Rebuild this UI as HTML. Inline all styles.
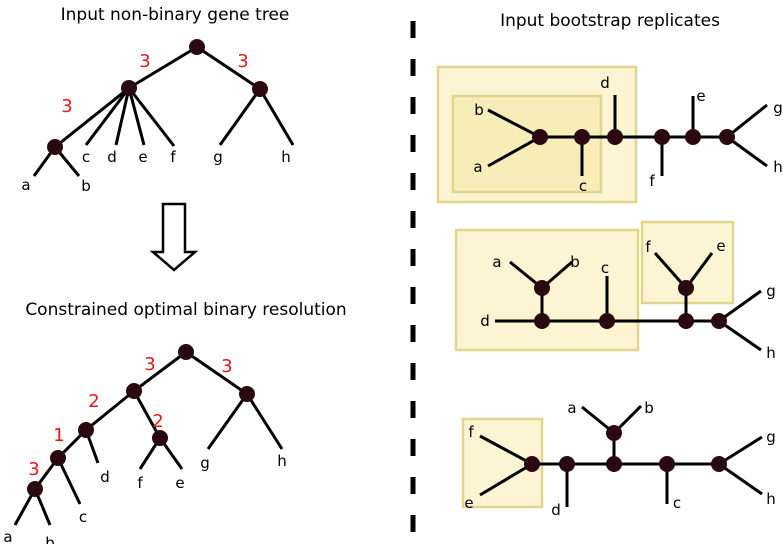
<!DOCTYPE html>
<html><head><style>
html,body{margin:0;padding:0;background:#fff;}
svg{display:block;}
text{font-family:"DejaVu Sans","Liberation Sans",sans-serif;}
.l{font-family:"Liberation Sans",sans-serif;font-size:15px;fill:#000;}
.r{font-family:"Liberation Sans",sans-serif;font-size:18px;fill:#e8161e;}
</style></head><body>
<svg width="783" height="544" viewBox="0 0 783 544" xmlns="http://www.w3.org/2000/svg">
<g fill="none" stroke="#000" stroke-width="3">
<!-- top-left tree -->
<path d="M197,47L129,88M197,47L260,89M129,88L55,147M55,147L34,176M55,147L79,176M129,88L86,145M129,88L116,145M129,88L144,145M129,88L174,146M260,89L220,145M260,89L293,145"/>
<!-- arrow -->
<path d="M163,204H185V252H195L174,270L153,252H163Z" stroke-width="2.5"/>
<!-- bottom-left tree -->
<path d="M186,352L134,391L86,430L58,458L35,489L15,525M35,489L50,525M58,458L80,504M86,430L98,463M134,391L160,438L140,469M160,438L182,469M186,352L247,394L208,449M247,394L282,449"/>
</g>
<!-- dashed divider -->
<line x1="413" y1="21" x2="413" y2="544" stroke="#000" stroke-width="5" stroke-dasharray="17 21"/>
<!-- boxes -->
<g stroke="#e2d58e" stroke-width="2.5">
<rect x="438" y="67" width="198" height="135" fill="#fcf4d2"/>
<rect x="453" y="96" width="148" height="96" fill="#f8ecb8"/>
<rect x="456" y="230" width="182" height="120" fill="#fcf4d2"/>
<rect x="642" y="222" width="91" height="81" fill="#fcf4d2"/>
<rect x="463" y="419" width="79" height="88" fill="#fcf4d2"/>
</g>
<g fill="none" stroke="#000" stroke-width="3">
<path d="M488,110L540,137L488,166M540,137H727L767,105M727,137L767,166M582,137V176M615,137V95M662,137V176M693,137V96"/>
<path d="M495,321H719L761,291M719,321L761,350M542,321V288L510,262M542,288L572,262M607,321V276M686,321V288L655,253M686,288L712,253"/>
<path d="M480,436L532,464L480,495M532,464H719L762,437M719,464L762,494M567,464V507M667,464V504M614,464V433L582,407M614,433L641,406"/>
</g>
<g fill="#2a0a10">
<circle cx="197" cy="47" r="8"/><circle cx="129" cy="88" r="8"/><circle cx="260" cy="89" r="8"/><circle cx="55" cy="147" r="8"/>
<circle cx="186" cy="352" r="8"/><circle cx="134" cy="391" r="8"/><circle cx="247" cy="394" r="8"/><circle cx="86" cy="430" r="8"/><circle cx="160" cy="438" r="8"/><circle cx="58" cy="458" r="8"/><circle cx="35" cy="489" r="8"/>
<circle cx="540" cy="137" r="8"/><circle cx="582" cy="137" r="8"/><circle cx="615" cy="137" r="8"/><circle cx="662" cy="137" r="8"/><circle cx="693" cy="137" r="8"/><circle cx="727" cy="137" r="8"/>
<circle cx="542" cy="288" r="8"/><circle cx="542" cy="321" r="8"/><circle cx="607" cy="321" r="8"/><circle cx="686" cy="288" r="8"/><circle cx="686" cy="321" r="8"/><circle cx="719" cy="321" r="8"/>
<circle cx="532" cy="464" r="8"/><circle cx="567" cy="464" r="8"/><circle cx="614" cy="464" r="8"/><circle cx="614" cy="433" r="8"/><circle cx="667" cy="464" r="8"/><circle cx="719" cy="464" r="8"/>
</g>
<!-- titles -->
<text x="175" y="20" font-size="17" text-anchor="middle">Input non-binary gene tree</text>
<text x="186" y="315" font-size="17" text-anchor="middle">Constrained optimal binary resolution</text>
<text x="610" y="26" font-size="17" text-anchor="middle">Input bootstrap replicates</text>
<!-- labels -->
<g class="l" text-anchor="middle">
<text x="26" y="190">a</text><text x="86" y="191">b</text><text x="86" y="162">c</text><text x="112" y="162">d</text><text x="143" y="162">e</text><text x="173" y="162">f</text><text x="218" y="162">g</text><text x="286" y="162">h</text>
<text x="8" y="542">a</text><text x="50" y="548">b</text><text x="83" y="522">c</text><text x="105" y="482">d</text><text x="140" y="488">f</text><text x="180" y="488">e</text><text x="205" y="468">g</text><text x="282" y="466">h</text>
<text x="479" y="115">b</text><text x="478" y="172">a</text><text x="583" y="191">c</text><text x="605" y="88">d</text><text x="652" y="186">f</text><text x="701" y="101">e</text><text x="778" y="113">g</text><text x="778" y="172">h</text>
<text x="497" y="267">a</text><text x="575" y="267">b</text><text x="605" y="273">c</text><text x="485" y="326">d</text><text x="648" y="252">f</text><text x="721" y="251">e</text><text x="771" y="296">g</text><text x="771" y="358">h</text>
<text x="471" y="437">f</text><text x="469" y="508">e</text><text x="556" y="515">d</text><text x="677" y="508">c</text><text x="572" y="413">a</text><text x="649" y="413">b</text><text x="771" y="442">g</text><text x="771" y="504">h</text>
</g>
<g class="r" text-anchor="middle">
<text x="145" y="67">3</text><text x="243" y="67">3</text><text x="67" y="112">3</text>
<text x="150" y="370">3</text><text x="227" y="372">3</text><text x="94" y="407">2</text><text x="158" y="427">2</text><text x="59" y="441">1</text><text x="34" y="475">3</text>
</g>
</svg>
</body></html>
